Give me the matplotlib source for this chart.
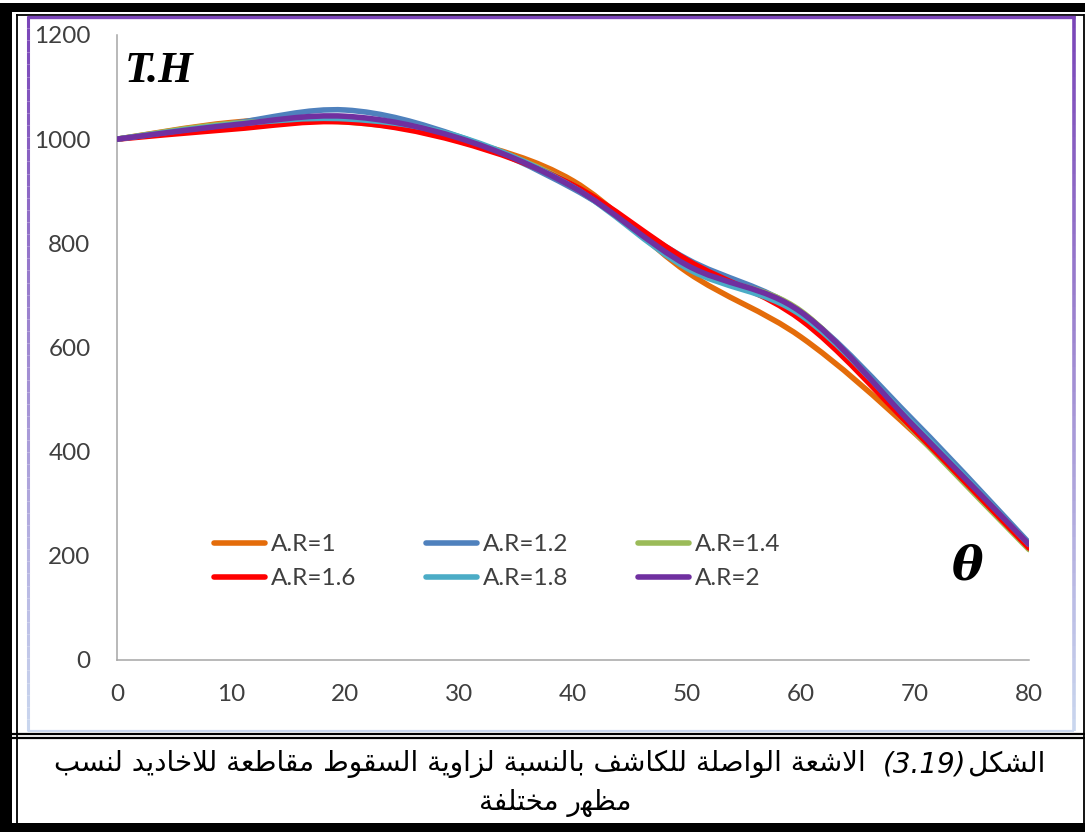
import re
import numpy as np
import matplotlib
matplotlib.use("Agg")
import matplotlib.pyplot as plt
from matplotlib.path import Path
from matplotlib.patches import PathPatch, Rectangle
from matplotlib.lines import Line2D
from matplotlib.collections import LineCollection
from matplotlib.transforms import Affine2D
from matplotlib.colors import to_rgb

# ---------------------------------------------------------------- data
theta = [0, 10, 20, 30, 40, 50, 60, 70, 80]
series_labels = ["A.R=1", "A.R=1.2", "A.R=1.4", "A.R=1.6", "A.R=1.8", "A.R=2"]
th_ar10 = [1000, 1032, 1040, 1000, 920, 745, 620, 435, 218]
th_ar12 = [1000, 1030, 1056, 1005, 905, 770, 668, 457, 225]
th_ar14 = [1000, 1030, 1033, 1000, 912, 755, 670, 437, 212]
th_ar16 = [1000, 1019, 1033, 995, 912, 768, 653, 440, 215]
th_ar18 = [1000, 1028, 1039, 1005, 908, 752, 662, 450, 222]
th_ar20 = [1000, 1027, 1044, 1002, 908, 758, 668, 447, 222]
series_values = [th_ar10, th_ar12, th_ar14, th_ar16, th_ar18, th_ar20]
series_colors = ["#E46C0A", "#4F81BD", "#9BBB59", "#FF0000", "#4BACC6", "#7030A0"]

x_ticks = [0, 10, 20, 30, 40, 50, 60, 70, 80]
y_ticks = [0, 200, 400, 600, 800, 1000, 1200]

caption_head = "الشكل"
caption_num = "(3.19)"
caption_rest = "الاشعة الواصلة للكاشف بالنسبة لزاوية السقوط مقاطعة للاخاديد لنسب"
caption_line2 = "مظهر مختلفة"

W, H = 1085, 832
TICK_FONT = "Lato"
TEXT_GREY = "#3F3F3F"


# ------------------------------------------------ Arabic contextual shaping
DUAL = {"ب": 0xFE8F, "ت": 0xFE95, "خ": 0xFEA5, "س": 0xFEB1, "ش": 0xFEB5,
        "ص": 0xFEB9, "ط": 0xFEC1, "ظ": 0xFEC5, "ع": 0xFEC9, "ف": 0xFED1,
        "ق": 0xFED5, "ك": 0xFED9, "ل": 0xFEDD, "م": 0xFEE1, "ن": 0xFEE5,
        "ه": 0xFEE9, "ي": 0xFEF1}
RIGHT = {"ا": 0xFE8D, "ة": 0xFE93, "د": 0xFEA9, "ز": 0xFEAF, "و": 0xFEED,
         "لا": 0xFEFB}


def shape_word(word):
    units = []
    i = 0
    while i < len(word):
        if word[i] == "ل" and i + 1 < len(word) and word[i + 1] == "ا":
            units.append("لا")
            i += 2
        else:
            units.append(word[i])
            i += 1
    out = []
    for k, u in enumerate(units):
        prev_joins = k > 0 and units[k - 1] in DUAL
        next_joins = u in DUAL and k + 1 < len(units)
        if u in DUAL:
            form = {(False, False): 0, (True, False): 1,
                    (False, True): 2, (True, True): 3}[(prev_joins, next_joins)]
            out.append(chr(DUAL[u] + form))
        elif u in RIGHT:
            out.append(chr(RIGHT[u] + (1 if prev_joins else 0)))
        else:
            out.append(u)
    return "".join(reversed(out))


def visual(line):
    tokens = re.findall(r"[\u0600-\u06FF]+|\s+|[^\s\u0600-\u06FF]+", line)
    parts = [shape_word(t) if re.match(r"[\u0600-\u06FF]", t) else t
             for t in tokens]
    return "".join(reversed(parts))


# ------------------------------------------------ smooth (Bezier) curves
def smooth_path(xs, ys):
    pts = np.column_stack([xs, ys]).astype(float)
    n = len(pts)
    verts = [pts[0]]
    codes = [Path.MOVETO]
    for i in range(n - 1):
        p0 = pts[i - 1] if i > 0 else pts[i]
        p1 = pts[i]
        p2 = pts[i + 1]
        p3 = pts[i + 2] if i + 2 < n else pts[i + 1]
        c1 = p1 + (p2 - p0) / 6.0
        c2 = p2 - (p3 - p1) / 6.0
        verts += [c1, c2, p2]
        codes += [Path.CURVE4] * 3
    return Path(verts, codes)


# ---------------------------------------------------------------- figure
fig = plt.figure(figsize=(W / 100, H / 100), dpi=100)
fig.patch.set_facecolor("white")
px = Affine2D().scale(1 / W, -1 / H).translate(0, 1) + fig.transFigure


def prect(x0, y0, x1, y1, color):
    fig.add_artist(Rectangle((x0, y0), x1 - x0, y1 - y0, transform=px,
                             facecolor=color, edgecolor="none", zorder=5))


def pline(xs, ys, color, lw):
    fig.add_artist(Line2D(xs, ys, transform=px, color=color, lw=lw,
                          solid_capstyle="butt", zorder=5))


def gradient_vline(x, y0, y1, c_top, c_bot, lw):
    ys = np.linspace(y0, y1, 60)
    segs = [[(x, ys[k]), (x, ys[k + 1])] for k in range(len(ys) - 1)]
    a, b = np.array(to_rgb(c_top)), np.array(to_rgb(c_bot))
    cols = [a + (b - a) * t for t in np.linspace(0, 1, len(segs))]
    lc = LineCollection(segs, colors=cols, linewidths=lw, transform=px,
                        zorder=5, capstyle="butt")
    fig.add_artist(lc)


# outer page frame
prect(0, 3, W, 12, "black")          # thick top band
prect(0, 3, 12, H, "black")          # thick left band
prect(0, 823, W, H, "black")         # thick bottom band
pline([16.5, 16.5], [14, 823], "black", 1.3)
pline([16, 1084], [14.5, 14.5], "black", 1.3)
pline([1083.5, 1083.5], [14, 823], "black", 1.3)
# divider between chart and caption
pline([12, W], [733.5, 733.5], "black", 1.6)
pline([12, W], [737.5, 737.5], "black", 1.6)

# chart-area border
pline([27, 1075], [17, 17], "#7A45B8", 2.4)
gradient_vline(28, 16, 731, "#7A45B8", "#C9D6EE", 2.2)
gradient_vline(1073.5, 16, 731, "#7A45B8", "#C9D6EE", 2.6)
pline([28, 1074], [730.5, 730.5], "#C9D6EE", 1.6)

# ---------------------------------------------------------------- axes
ax = fig.add_axes([117 / W, 1 - 660 / H, (1029 - 117) / W, (660 - 35) / H])
ax.set_xlim(0, 80)
ax.set_ylim(0, 1200)
ax.set_facecolor("none")

for vals, col in zip(series_values, series_colors):
    ax.add_patch(PathPatch(smooth_path(theta, vals), facecolor="none",
                           edgecolor=col, lw=4.0, capstyle="round",
                           joinstyle="round", zorder=3))

ax.set_xticks(x_ticks)
ax.set_yticks(y_ticks)
ax.tick_params(axis="both", length=0, labelsize=17.5, labelcolor=TEXT_GREY)
ax.tick_params(axis="y", pad=19)
ax.tick_params(axis="x", pad=17)
for lab in ax.get_xticklabels() + ax.get_yticklabels():
    lab.set_fontfamily(TICK_FONT)
for s in ("top", "right"):
    ax.spines[s].set_visible(False)
for s in ("left", "bottom"):
    ax.spines[s].set_color("#A6A6A6")
    ax.spines[s].set_linewidth(1.1)

ax.text(0.008, 0.975, "T.H", transform=ax.transAxes, fontsize=32,
        fontfamily="Liberation Serif", fontweight="bold", fontstyle="italic",
        va="top", ha="left", color="black")
ax.text((967 - 117) / 912, (660 - 567) / 625, "θ", transform=ax.transAxes,
        fontsize=34, fontfamily="DejaVu Serif", fontweight="bold",
        fontstyle="italic", va="center", ha="center", color="black")

# legend filled row by row
order = [0, 3, 1, 4, 2, 5]
handles = [Line2D([], [], color=series_colors[i], lw=4.0,
                  solid_capstyle="round") for i in order]
leg = ax.legend(handles, [series_labels[i] for i in order], ncol=3,
                loc="upper left", bbox_to_anchor=((214 - 117) / 912, (660 - 534) / 625),
                frameon=False, borderpad=0, borderaxespad=0,
                handlelength=2.1, handletextpad=0.25, columnspacing=2.85,
                labelspacing=0.55,
                prop={"family": TICK_FONT, "size": 17.5})
for t in leg.get_texts():
    t.set_color(TEXT_GREY)

# ---------------------------------------------------------------- caption
cap_font = {"family": "DejaVu Sans", "size": 20, "color": "black"}
head = fig.text(1045 / W, 1 - 772 / H, visual(caption_head),
                ha="right", va="baseline", **cap_font)
num = fig.add_artist(plt.Annotation(
    caption_num, xy=(0, 0), xycoords=head, xytext=(-1, 0),
    textcoords="offset points", ha="right", va="bottom",
    fontsize=20, fontstyle="italic", family="DejaVu Sans"))
rest = fig.add_artist(plt.Annotation(
    visual(caption_rest), xy=(0, 0), xycoords=num, xytext=(-12, 0),
    textcoords="offset points", ha="right", va="bottom", **cap_font))
fig.text(555 / W, 1 - 810 / H, visual(caption_line2), ha="center",
         va="baseline", **cap_font)

fig.savefig("out.png", dpi=100, facecolor="white")
